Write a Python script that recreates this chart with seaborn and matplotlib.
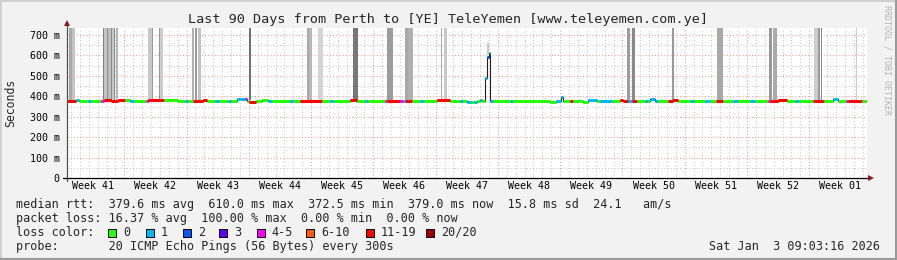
import numpy as np
import pandas as pd
import matplotlib
matplotlib.use("Agg")
import matplotlib.pyplot as plt
from matplotlib.patches import Rectangle
from matplotlib.lines import Line2D
import seaborn as sns

# ---------------- data ----------------
# median RTT segments: start day (since window start), median rtt (ms), loss class index
seg_day = [0.00, 1.07, 1.41, 2.42, 2.76, 3.88, 4.22, 5.01, 5.79, 6.58, 7.14, 7.59, 8.94, 9.17,
           10.52, 10.97, 12.54, 13.33, 13.67, 14.23, 15.36, 15.81, 16.71, 17.16, 18.17, 18.51,
           19.18, 20.08, 20.31, 20.53, 21.32, 21.99, 22.67, 23.12, 25.14, 25.48, 26.27, 28.74,
           29.64, 30.09, 31.89, 32.68, 33.58, 33.92, 35.83, 36.06, 37.52, 37.86, 38.08, 38.87,
           39.77, 40.22, 41.68, 43.14, 44.27, 44.61, 45.06, 45.51, 45.84, 46.18, 46.52, 46.74,
           47.08, 47.27, 47.45, 47.59, 47.98, 49.89, 50.23, 54.39, 55.07, 55.63, 55.86, 56.64,
           56.98, 58.11, 58.67, 59.68, 60.02, 61.37, 62.27, 62.61, 63.17, 63.62, 64.18, 65.08,
           65.42, 65.64, 66.21, 66.54, 67.67, 68.23, 68.79, 70.14, 70.59, 71.83, 72.39, 73.07,
           73.86, 74.98, 75.54, 76.89, 77.46, 78.92, 79.14, 80.04, 81.06, 81.96, 82.41, 83.98,
           85.11, 86.23, 86.79, 87.69, 87.92, 89.49]
seg_rtt = [376, 380, 376, 378, 376, 376, 382, 376, 380, 380, 378, 378, 375, 380,
           383, 380, 379, 378, 378, 375, 384, 378, 376, 375, 378, 377,
           389, 385, 378, 374, 376, 380, 376, 377, 378, 378, 378, 378,
           378, 378, 380, 378, 378, 378, 378, 378, 378, 378, 378, 378,
           378, 378, 381, 378, 378, 376, 372, 370, 374, 376, 380, 378,
           489, 594, 610, 379, 378, 376, 378, 372, 378, 395, 378, 376,
           378, 373, 384, 378, 379, 378, 384, 376, 378, 376, 378, 378,
           378, 385, 378, 378, 378, 381, 378, 378, 378, 378, 378, 378,
           378, 378, 378, 378, 378, 378, 378, 383, 378, 378, 378, 378,
           378, 385, 378, 378, 378, 378]
seg_loss = [6, 1, 0, 1, 0, 4, 6, 6, 6, 0, 1, 0, 4, 6,
            6, 0, 0, 1, 0, 6, 6, 0, 1, 0, 1, 0,
            1, 4, 0, 6, 0, 0, 1, 0, 1, 0, 6, 0,
            1, 0, 6, 0, 1, 0, 4, 6, 4, 1, 6, 0,
            1, 0, 6, 0, 1, 0, 1, 0, 1, 0, 1, 0,
            1, 2, 1, 1, 0, 1, 0, 0, 1, 1, 0, 6,
            0, 0, 1, 0, 1, 0, 6, 6, 1, 6, 0, 1,
            0, 1, 1, 0, 6, 6, 0, 1, 0, 1, 0, 6,
            0, 1, 0, 1, 0, 4, 6, 6, 0, 1, 0, 6,
            0, 1, 0, 4, 6, 0]
window_days = 90.0

# smoke (ping spread) bars: start day, end day, low ms, high ms, shade
smoke_start = [0.28, 0.65, 4.14, 4.25, 4.52, 4.70, 5.01, 5.15, 5.34, 5.57, 9.17, 9.59, 10.41, 10.52,
               14.09, 14.46, 14.79, 20.56, 27.09, 27.32, 28.29, 32.20, 36.02, 38.08, 38.34, 38.45,
               42.10, 42.47, 47.27, 63.02, 63.59, 68.08, 73.15, 78.95, 79.45, 84.02, 84.47, 84.85,
               88.71]
smoke_end = [0.65, 0.96, 4.25, 4.52, 4.70, 5.01, 5.15, 5.34, 5.46, 5.76, 9.59, 9.68, 10.52, 10.86,
             14.34, 14.65, 15.13, 20.72, 27.32, 27.62, 28.85, 32.72, 36.70, 38.34, 38.45, 38.95,
             42.24, 42.77, 47.53, 63.32, 63.96, 68.34, 73.82, 79.33, 79.90, 84.47, 84.66, 84.96,
             88.90]
smoke_low = [380] * 28 + [600] + [380] * 10
smoke_high = [800] * 28 + [660] + [800] * 10
smoke_shade = ['#a8a8a8', '#c4c4c4', '#808080', '#c4c4c4', '#8c8c8c', '#bdbdbd', '#8c8c8c', '#c8c8c8',
               '#8c8c8c', '#b8b8b8', '#c8c8c8', '#999999', '#999999', '#cccccc', '#b0b0b0', '#999999',
               '#c0c0c0', '#707070', '#a8a8a8', '#b8b8b8', '#d4d4d4', '#787878', '#9c9c9c', '#a8a8a8',
               '#d0d0d0', '#b0b0b0', '#a8a8a8', '#c8c8c8', '#c8c8c8', '#9c9c9c', '#888888', '#999999',
               '#a8a8a8', '#999999', '#aaaaaa', '#cccccc', '#999999', '#888888', '#cccccc']

loss_labels = ['0', '1', '2', '3', '4-5', '6-10', '11-19', '20/20']
loss_colors = ['#26ff00', '#00b8ff', '#0059ff', '#5e00ff', '#ff00ff', '#ff5e00', '#ff0000', '#a10000']

week_labels = ['Week 41', 'Week 42', 'Week 43', 'Week 44', 'Week 45', 'Week 46', 'Week 47',
               'Week 48', 'Week 49', 'Week 50', 'Week 51', 'Week 52', 'Week 01']
first_week_boundary = 6.5   # day offset of first Monday 00:00 in the window

ytick_vals = [0, 100, 200, 300, 400, 500, 600, 700]
ytick_labels = ['0', '100 m', '200 m', '300 m', '400 m', '500 m', '600 m', '700 m']
y_max = 737

title = "Last 90 Days from Perth to [YE] TeleYemen [www.teleyemen.com.ye]"
legend_rtt = "median rtt:  379.6 ms avg  610.0 ms max  372.5 ms min  379.0 ms now  15.8 ms sd  24.1   am/s"
legend_loss = "packet loss: 16.37 % avg  100.00 % max  0.00 % min  0.00 % now"
legend_probe = "probe:       20 ICMP Echo Pings (56 Bytes) every 300s"
stamp = "Sat Jan  3 09:03:16 2026"

# ---------------- figure ----------------
sns.set_theme(style="white")
plt.rcParams['font.family'] = ['DejaVu Sans Mono', 'DejaVu Sans']

W, H = 897, 260
fig = plt.figure(figsize=(W / 100, H / 100), dpi=100, facecolor='#f2f2f2')

def fx(x):
    return x / W

def fy(y):
    return 1 - y / H

L, R, T, B = 66.5, 867, 27.5, 178
ax = fig.add_axes([fx(L), fy(B), fx(R) - fx(L), fy(T) - fy(B)])
ax.set_facecolor('white')
ax.set_xlim(0, window_days)
ax.set_ylim(0, y_max)

# grid
week_bounds = np.arange(first_week_boundary, window_days, 7.0)
day_lines = np.arange(first_week_boundary % 1.0, window_days, 1.0)
for d in day_lines:
    if not np.any(np.isclose(week_bounds, d)):
        ax.axvline(d, color='#c8c8c8', lw=0.75, ls=(0, (1, 2)), zorder=0)
for yv in np.arange(50, y_max, 100):
    ax.axhline(yv, color='#c8c8c8', lw=0.75, ls=(0, (1, 2)), zorder=0)
for d in week_bounds:
    ax.axvline(d, color='#f09a9a', lw=0.75, ls=(0, (1, 2)), zorder=0.5)
for yv in ytick_vals[1:]:
    ax.axhline(yv, color='#f09a9a', lw=0.75, ls=(0, (1, 2)), zorder=0.5)

# smoke
for s, e, lo, hi, c in zip(smoke_start, smoke_end, smoke_low, smoke_high, smoke_shade):
    ax.bar(s, hi - lo, width=e - s, bottom=lo, align='edge', color=c, lw=0, zorder=1)

# median: thin dark step line, then colored thick segments
seg_end = seg_day[1:] + [window_days]
df = pd.DataFrame({'day': seg_day + [window_days], 'rtt': seg_rtt + [seg_rtt[-1]]})
sns.lineplot(data=df, x='day', y='rtt', ax=ax, drawstyle='steps-post', color='#202020',
             lw=0.8, zorder=2, estimator=None, legend=False)
for s, e, r, k in zip(seg_day, seg_end, seg_rtt, seg_loss):
    ax.hlines(r, s, e, color=loss_colors[k], lw=2.2, zorder=3, capstyle='butt')

# axes styling
for sp in ax.spines.values():
    sp.set_visible(False)
ax.set_yticks(ytick_vals)
ax.set_yticklabels(ytick_labels)
ax.set_xticks(first_week_boundary - 3.5 + 7 * np.arange(len(week_labels)))
ax.set_xticklabels(week_labels)
ax.tick_params(axis='both', length=0, labelsize=7.2, colors='#000000')
ax.tick_params(axis='y', pad=4.8)
ax.tick_params(axis='x', pad=2.5)
ax.set_xlabel('')
ax.set_ylabel('')

# axis lines and arrows
fig.add_artist(Line2D([fx(L), fx(L)], [fy(181), fy(24)], color='#505050', lw=0.9))
fig.add_artist(Line2D([fx(63), fx(870)], [fy(B), fy(B)], color='#000000', lw=0.9))
fig.add_artist(Line2D([fx(L)], [fy(22.5)], marker='^', ms=5, color='#8b1a1a', mew=0))
fig.add_artist(Line2D([fx(871)], [fy(B)], marker='>', ms=5, color='#8b1a1a', mew=0))

# texts
fig.text(fx(448), fy(19), title, ha='center', va='center', fontsize=9.7)
fig.text(fx(11), fy(103), 'Seconds', rotation=90, ha='center', va='center', fontsize=8.3)
fig.text(fx(887), fy(5), 'RRDTOOL / TOBI OETIKER', rotation=270, ha='center', va='top',
         fontsize=6.0, color='#b4b4b4')

fig.text(fx(16), fy(204.3), legend_rtt, ha='left', va='center', fontsize=8.5)
fig.text(fx(16), fy(218.3), legend_loss, ha='left', va='center', fontsize=8.5)
fig.text(fx(16), fy(232.3), 'loss color:', ha='left', va='center', fontsize=8.5)
box_x = [108, 145.7, 182.7, 219.3, 256.7, 306, 366, 426]
for bx, lab, col in zip(box_x, loss_labels, loss_colors):
    fig.add_artist(Rectangle((fx(bx), fy(236.5)), 8 / W, 8 / H, transform=fig.transFigure,
                             facecolor=col, edgecolor='#000000', lw=0.7))
    fig.text(fx(bx + 15), fy(232.3), lab, ha='left', va='center', fontsize=8.5)
fig.text(fx(16), fy(246.3), legend_probe, ha='left', va='center', fontsize=8.5)
fig.text(fx(880), fy(246.3), stamp, ha='right', va='center', fontsize=8.5)

# frame
fig.add_artist(Line2D([0, 1], [fy(0.5), fy(0.5)], color='#d0d0d0', lw=1.4))
fig.add_artist(Line2D([fx(0.5), fx(0.5)], [0, 1], color='#d0d0d0', lw=1.4))
fig.add_artist(Line2D([0, 1], [fy(258.5), fy(258.5)], color='#9a9a9a', lw=2.2))
fig.add_artist(Line2D([fx(895.5), fx(895.5)], [0, 1], color='#9a9a9a', lw=2.2))

fig.savefig('out.png', dpi=100, facecolor=fig.get_facecolor())
